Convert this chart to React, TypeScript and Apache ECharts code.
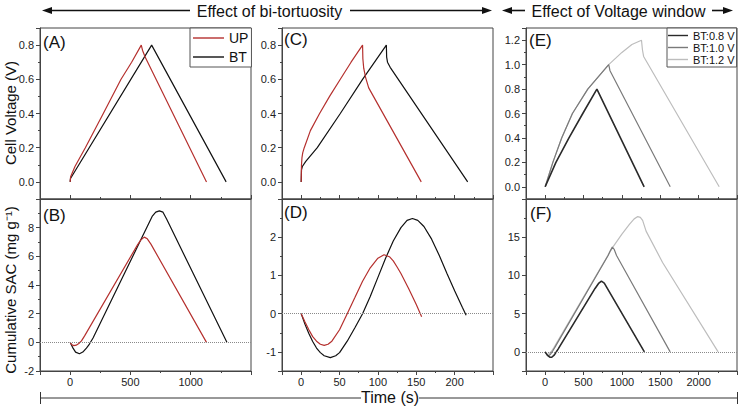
import React, { useEffect, useRef } from 'react';
import * as echarts from 'echarts';

// ---------- data (time in s) ----------
const upVoltA = [[0,0],[4,0.03],[40,0.09],[126,0.2],[275,0.4],[422,0.6],[510,0.7],[590,0.8],[600,0.77],[622,0.73],[1131,0]];
const btVoltA = [[0,0],[3,0.02],[676,0.8],[1294,0]];

const upSacB = [[0,0],[12,-0.15],[30,-0.23],[50,-0.2],[72,-0.08],[94,0.1],[120,0.45],[560,6.82],[590,7.18],[615,7.34],[640,7.22],[670,6.85],[1131,0]];
const btSacB = [[0,0],[20,-0.35],[45,-0.68],[77,-0.8],[105,-0.68],[135,-0.4],[160,-0.12],[190,0.3],[680,8.78],[710,9.08],[740,9.17],[770,9.08],[800,8.6],[1300,0]];

const upVoltC = [[0,0],[0.4,0.1],[1,0.14],[2,0.17],[4,0.2],[12,0.3],[24,0.4],[37,0.5],[51,0.6],[65,0.7],[80,0.8],[80.4,0.72],[81.5,0.665],[84,0.61],[88,0.55],[156.5,0]];
const btVoltC = [[0,0],[0.4,0.07],[1.5,0.09],[6,0.12],[21,0.2],[51,0.4],[80,0.6],[111,0.8],[111.4,0.73],[112.5,0.7],[116,0.67],[217,0]];

const upSacD = [[0,0],[5,-0.22],[10,-0.42],[15,-0.6],[20,-0.72],[25,-0.8],[30,-0.83],[35,-0.8],[40,-0.72],[50,-0.42],[60,0],[70,0.42],[80,0.85],[90,1.2],[100,1.45],[108,1.54],[115,1.49],[120,1.38],[125,1.22],[130,1.05],[140,0.66],[150,0.24],[157,-0.08]];
const btSacD = [[0,0],[5,-0.28],[10,-0.52],[15,-0.73],[20,-0.9],[25,-1.02],[30,-1.1],[38,-1.15],[45,-1.1],[50,-1.02],[60,-0.72],[70,-0.37],[80,0],[90,0.45],[100,0.95],[110,1.45],[120,1.9],[130,2.25],[138,2.44],[145,2.49],[152,2.44],[160,2.28],[170,1.95],[180,1.52],[190,1.05],[200,0.6],[210,0.17],[215,-0.04]];

const bt08VoltE = [[0,0],[140,0.2],[310,0.4],[490,0.6],[674,0.8],[1290,0]];
const bt10VoltE = [[0,0],[100,0.2],[215,0.4],[355,0.6],[555,0.8],[828,1.0],[845,0.95],[1630,0]];
const bt12VoltE = [[0,0],[100,0.2],[215,0.4],[355,0.6],[555,0.8],[828,1.0],[1000,1.1],[1130,1.165],[1255,1.2],[1268,1.12],[1283,1.067],[2268,0]];

const bt08SacF = [[0,0],[30,-0.45],[60,-0.68],[86,-0.7],[120,-0.4],[170,0.4],[650,8.3],[700,9.0],[733,9.25],[770,9.0],[810,8.3],[1293,0]];
const bt10SacF = [[0,0],[20,-0.35],[43,-0.5],[70,-0.3],[100,0.15],[130,0.65],[820,12.6],[850,13.25],[875,13.7],[900,13.4],[930,12.6],[1629,0]];
const bt12SacF = [[0,0],[15,-0.25],[30,-0.35],[55,-0.2],[80,0.05],[110,0.5],[875,13.6],[1000,15.4],[1100,16.7],[1160,17.4],[1207,17.7],[1240,17.6],[1270,17.2],[1315,15.8],[1530,11.7],[2254,0]];

const panelLetters = ['(A)', '(B)', '(C)', '(D)', '(E)', '(F)'];
const legendBT = ['UP', 'BT'];
const legendVW = ['BT:0.8 V', 'BT:1.0 V', 'BT:1.2 V'];
const headerTitles = ['Effect of bi-tortuosity', 'Effect of Voltage window'];
const yTitles = ['Cell Voltage (V)', 'Cumulative SAC (mg g\u207B\u00B9)'];
const xTitle = 'Time (s)';

// ---------- styling ----------
const FONT = '"Liberation Sans", Arial, sans-serif';
const AXIS = '#444';
const RED = '#b5302e';
const BLACK = '#111';
const DARK = '#2a2a2a';
const MID = '#7a7a7a';
const LIGHT = '#bdbdbd';

const grids = [
  { left: 40, top: 28, width: 211, height: 171 },
  { left: 40, top: 199, width: 211, height: 172 },
  { left: 282, top: 28, width: 211, height: 171 },
  { left: 282, top: 199, width: 211, height: 172 },
  { left: 526, top: 28, width: 211, height: 171 },
  { left: 526, top: 199, width: 211, height: 172 },
].map(g => ({ ...g, show: true, borderColor: AXIS, borderWidth: 1, backgroundColor: 'transparent' }));

const xAx = (gi: number, min: number, max: number, split: number, bottom: boolean) => ({
  type: 'value', gridIndex: gi, min, max, splitNumber: split,
  axisLine: { show: true, onZero: false, lineStyle: { color: AXIS, width: 1 } },
  axisTick: { show: true, inside: !bottom, length: 4, lineStyle: { color: AXIS } },
  minorTick: { show: true, splitNumber: 2, length: 2, lineStyle: { color: AXIS } },
  splitLine: { show: false },
  axisLabel: {
    show: bottom, fontSize: 11, color: '#222', fontFamily: FONT, margin: 5,
    showMinLabel: false, showMaxLabel: false, formatter: (v: number) => String(v),
  },
});

const yAx = (gi: number, min: number, max: number, opts: any) => ({
  type: 'value', gridIndex: gi, min, max,
  ...(opts.interval ? { interval: opts.interval } : { splitNumber: opts.split }),
  axisLine: { show: true, onZero: false, lineStyle: { color: AXIS, width: 1 } },
  axisTick: { show: true, length: 4, lineStyle: { color: AXIS } },
  minorTick: { show: true, splitNumber: 2, length: 2, lineStyle: { color: AXIS } },
  splitLine: { show: false },
  axisLabel: {
    fontSize: 11, color: '#222', fontFamily: FONT, margin: 6,
    showMinLabel: opts.showMin ?? false, showMaxLabel: false,
    formatter: opts.fixed ? (v: number) => v.toFixed(opts.fixed) : (v: number) => String(v),
  },
});

const zeroLine = {
  silent: true, symbol: ['none', 'none'], label: { show: false },
  lineStyle: { type: 'dotted', color: '#8a8a8a', width: 1 },
  data: [{ yAxis: 0 }],
};

const ln = (name: string, data: number[][], gi: number, color: string, width = 1.2, extra: any = {}) => ({
  type: 'line', name, data, xAxisIndex: gi, yAxisIndex: gi,
  symbol: 'none', showSymbol: false, lineStyle: { color, width }, itemStyle: { color },
  silent: true, ...extra,
});

const txt = (text: string, x: number, y: number, size: number, extra: any = {}) => ({
  type: 'text', x, y, silent: true,
  style: { text, fontSize: size, fontFamily: FONT, fill: '#111', align: 'left', verticalAlign: 'middle', ...extra },
});

const hline = (x1: number, x2: number, y: number, w = 1.6, c = '#111') => ({
  type: 'line', silent: true, shape: { x1, y1: y, x2, y2: y }, style: { stroke: c, lineWidth: w },
});
const vline = (x: number, y1: number, y2: number, w = 1, c = '#333') => ({
  type: 'line', silent: true, shape: { x1: x, y1, x2: x, y2 }, style: { stroke: c, lineWidth: w },
});
const head = (tip: number, dir: number, y: number) => ({
  type: 'polygon', silent: true,
  shape: { points: [[tip, y], [tip - dir * 10, y - 3.5], [tip - dir * 10, y + 3.5]] },
  style: { fill: '#111' },
});

const HY = 10.5;
const graphic = [
  head(42, -1, HY), hline(50, 190, HY),
  txt(headerTitles[0], 269.5, 11, 16, { align: 'center' }),
  hline(350, 484, HY), head(492, 1, HY),
  head(502, -1, HY), hline(510, 525, HY),
  txt(headerTitles[1], 618.5, 11, 16, { align: 'center' }),
  hline(712, 725, HY), head(733, 1, HY),
  hline(40.5, 361, 398, 1, '#333'), hline(419, 737.5, 398, 1, '#333'),
  vline(40.5, 392, 404), vline(737.5, 392, 404),
  txt(xTitle, 390, 397, 16, { align: 'center' }),
  { ...txt(yTitles[0], 10, 113, 15, { align: 'center' }), rotation: Math.PI / 2 },
  { ...txt(yTitles[1], 10, 290, 15, { align: 'center' }), rotation: Math.PI / 2 },
  txt(panelLetters[0], 43, 42, 17),
  txt(panelLetters[1], 43, 215, 17),
  txt(panelLetters[2], 284, 39, 17),
  txt(panelLetters[3], 284, 212.5, 17),
  txt(panelLetters[4], 529, 40, 17),
  txt(panelLetters[5], 530, 213, 17),
];

const option: any = {
  animation: false,
  backgroundColor: '#fff',
  grid: grids,
  xAxis: [
    xAx(0, -250, 1500, 4, false), xAx(1, -250, 1500, 4, true),
    xAx(2, -25, 250, 5, false), xAx(3, -25, 250, 5, true),
    xAx(4, -250, 2500, 5, false), xAx(5, -250, 2500, 5, true),
  ],
  yAxis: [
    yAx(0, -0.1, 0.9, { split: 5, fixed: 1 }),
    yAx(1, -2, 10, { interval: 2, showMin: true }),
    yAx(2, -0.1, 0.9, { split: 5, fixed: 1 }),
    yAx(3, -1.5, 3, { split: 5 }),
    yAx(4, -0.1, 1.3, { split: 7, fixed: 1 }),
    yAx(5, -2.5, 20, { split: 5 }),
  ],
  legend: [
    {
      data: legendBT, orient: 'vertical', left: 190, top: 28, padding: [3, 3, 3, 3],
      icon: 'rect', itemGap: 5, itemWidth: 31, itemHeight: 1.4,
      borderColor: '#555', borderWidth: 1, backgroundColor: '#fff', selectedMode: false,
      textStyle: { fontSize: 14, color: '#111', fontFamily: FONT },
    },
    {
      data: legendVW, orient: 'vertical', left: 667, top: 28, padding: [2, 2, 2, 1],
      icon: 'rect', itemGap: 1, itemWidth: 20, itemHeight: 1.4,
      borderColor: '#555', borderWidth: 1, backgroundColor: '#fff', selectedMode: false,
      textStyle: { fontSize: 11, color: '#111', fontFamily: FONT },
    },
  ],
  graphic,
  series: [
    ln('BT', btVoltA, 0, BLACK),
    ln('UP', upVoltA, 0, RED),
    ln('BT', btSacB, 1, BLACK, 1.2, { markLine: zeroLine }),
    ln('UP', upSacB, 1, RED),
    ln('BT', btVoltC, 2, BLACK),
    ln('UP', upVoltC, 2, RED),
    ln('BT', btSacD, 3, BLACK, 1.2, { markLine: zeroLine }),
    ln('UP', upSacD, 3, RED),
    ln('BT:1.2 V', bt12VoltE, 4, LIGHT),
    ln('BT:1.0 V', bt10VoltE, 4, MID),
    ln('BT:0.8 V', bt08VoltE, 4, DARK, 1.6),
    ln('BT:1.2 V', bt12SacF, 5, LIGHT, 1.2, { markLine: zeroLine }),
    ln('BT:1.0 V', bt10SacF, 5, MID),
    ln('BT:0.8 V', bt08SacF, 5, DARK, 1.6),
  ],
};

export default function App() {
  const ref = useRef<HTMLDivElement>(null);
  useEffect(() => {
    if (!ref.current) return;
    const chart = echarts.init(ref.current, null, { renderer: 'svg' });
    chart.setOption(option);
    return () => chart.dispose();
  }, []);
  return (
    <div
      ref={ref}
      style={{ position: 'fixed', left: 0, top: 0, width: 740, height: 407, background: '#fff' }}
    />
  );
}
